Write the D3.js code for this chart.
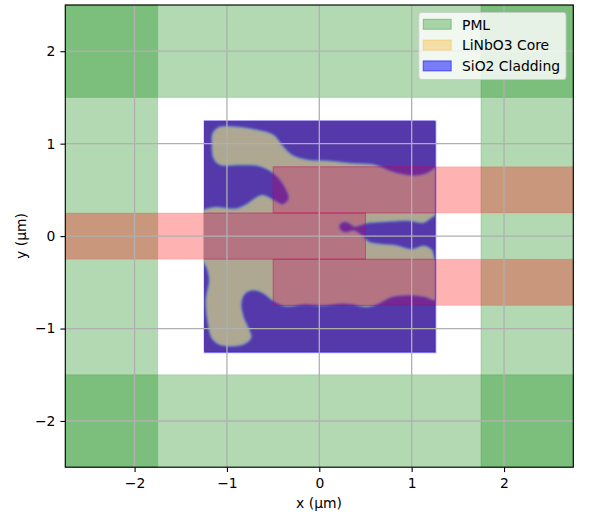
<!DOCTYPE html>
<html>
<head>
<meta charset="utf-8">
<script src="https://cdn.jsdelivr.net/npm/d3@7"></script>
<style>
  html, body { margin: 0; padding: 0; background: #fff; }
  svg { display: block; }
  text { font-family: "DejaVu Sans", sans-serif; }
</style>
</head>
<body>
<svg id="chart" width="601" height="518"></svg>
<script>
// Data, all in um
const xDomain = [-2.75, 2.75];
const yDomain = [-2.5, 2.5];
const xTickValues = [-2, -1, 0, 1, 2];
const yTickValues = [-2, -1, 0, 1, 2];

// [x0, x1, y0, y1]
const pmlRects = [
  [-2.75, -1.75, -2.5, 2.5],
  [1.75, 2.75, -2.5, 2.5],
  [-2.75, 2.75, 1.5, 2.5],
  [-2.75, 2.75, -2.5, -1.5]
];
const waveguideRects = [
  [-2.75, 0.5, -0.25, 0.25],
  [-0.5, 2.75, 0.25, 0.75],
  [-0.5, 2.75, -0.75, -0.25]
];
const claddingRect = [-1.25, 1.25, -1.25, 1.25];

// outline of the core pattern
const coreOutline = [
  [-1.257, 0.282], [-1.127, 0.314], [-0.910, 0.296], [-0.802, 0.336], [-0.621, 0.444],
  [-0.495, 0.390], [-0.397, 0.343], [-0.332, 0.408], [-0.386, 0.553], [-0.495, 0.679],
  [-0.657, 0.758], [-0.874, 0.769], [-1.073, 0.769], [-1.145, 0.841], [-1.163, 1.004],
  [-1.155, 1.112], [-1.091, 1.177], [-0.946, 1.185], [-0.730, 1.159], [-0.495, 1.094],
  [-0.405, 0.986], [-0.296, 0.878], [-0.116, 0.823], [0.101, 0.813], [0.354, 0.787],
  [0.607, 0.769], [0.787, 0.697], [1.004, 0.654], [1.148, 0.672], [1.249, 0.733],
  [1.32, 0.8], [1.32, 0.2],
  [1.249, 0.217], [1.130, 0.144], [0.968, 0.166], [0.715, 0.155], [0.517, 0.14],
  [0.44, 0.115], [0.379, 0.103], [0.33, 0.135], [0.28, 0.155], [0.225, 0.13],
  [0.217, 0.09], [0.25, 0.05], [0.30, 0.043], [0.379, 0.06], [0.43, 0.03],
  [0.5, -0.03], [0.534, -0.062], [0.679, -0.087], [0.823, -0.098],
  [1.004, -0.141], [1.130, -0.105], [1.221, -0.152], [1.249, -0.242],
  [1.32, -0.3], [1.32, -0.65],
  [1.249, -0.693], [1.148, -0.657], [0.968, -0.639], [0.787, -0.657], [0.643, -0.729],
  [0.517, -0.766], [0.354, -0.737], [0.246, -0.729], [0.029, -0.748], [-0.152, -0.737],
  [-0.368, -0.758], [-0.495, -0.704], [-0.603, -0.621], [-0.712, -0.585], [-0.802, -0.621],
  [-0.845, -0.729], [-0.820, -0.874], [-0.748, -1.037], [-0.737, -1.098], [-0.802, -1.163],
  [-0.946, -1.192], [-1.091, -1.170], [-1.163, -1.108], [-1.199, -0.983], [-1.228, -0.693],
  [-1.192, -0.477], [-1.217, -0.350], [-1.257, -0.278],
  [-1.32, -0.2], [-1.32, 0.25]
];

const legendLabels = ["PML", "LiNbO3 Core", "SiO2 Cladding"];
const legendColors = ["green", "orange", "blue"];
const legendAlphas = [0.3, 0.3, 0.5];

const svg = d3.select("#chart");
const x = d3.scaleLinear().domain(xDomain).range([65.3, 573.3]);
const y = d3.scaleLinear().domain(yDomain).range([467.2, 5]);

const defs = svg.append("defs");
defs.append("clipPath").attr("id", "clad-clip").append("rect")
  .attr("x", x(claddingRect[0])).attr("y", y(claddingRect[3]))
  .attr("width", x(claddingRect[1]) - x(claddingRect[0]))
  .attr("height", y(claddingRect[2]) - y(claddingRect[3]));
defs.append("filter").attr("id", "soft")
  .attr("x", "-5%").attr("y", "-5%").attr("width", "110%").attr("height", "110%")
  .append("feGaussianBlur").attr("stdDeviation", 0.8);

function drawRects(sel, rects, fill, alpha, stroke, strokeAlpha, strokeWidth) {
  sel.selectAll(null).data(rects).join("rect")
    .attr("x", d => x(d[0]))
    .attr("y", d => y(d[3]))
    .attr("width", d => x(d[1]) - x(d[0]))
    .attr("height", d => y(d[2]) - y(d[3]))
    .attr("fill", fill).attr("fill-opacity", alpha)
    .attr("stroke", stroke).attr("stroke-opacity", strokeAlpha)
    .attr("stroke-width", strokeWidth);
}

// PML
drawRects(svg.append("g"), pmlRects, "green", 0.3, "green", 0.15, 1.1);
// waveguides, outside the cladding they sit straight on the white
drawRects(svg.append("g"), waveguideRects, "red", 0.3, "red", 0.1, 1.1);

// cladding block, the pale edge only shows on the right and bottom
drawRects(svg.append("g").attr("transform", "translate(0.7,0.7)"), [claddingRect], "#5538aa", 1, "blue", 0.38, 1.8);
svg.append("g").attr("clip-path", "url(#clad-clip)").call(g =>
  drawRects(g, [claddingRect], "#5538aa", 1, "#5538aa", 1, 0));

// core pattern
const coreLine = d3.line().x(d => x(d[0])).y(d => y(d[1])).curve(d3.curveCatmullRomClosed.alpha(0.5));
const coreG = svg.append("g").attr("clip-path", "url(#clad-clip)");
coreG.append("path").datum(coreOutline)
  .attr("d", coreLine)
  .attr("fill", "#aea791")
  .attr("stroke", "#4f93cf")
  .attr("stroke-opacity", 0.75)
  .attr("stroke-width", 1.3)
  .attr("filter", "url(#soft)");

// waveguides again over the block, tint is different here
const overG = svg.append("g").attr("clip-path", "url(#clad-clip)");
drawRects(overG, waveguideRects, "rgb(195,0,95)", 0.3, "rgb(200,0,80)", 0.4, 1.1);

// grid
const grid = svg.append("g");
grid.selectAll(null).data(xTickValues).join("line")
  .attr("x1", d => x(d)).attr("x2", d => x(d)).attr("y1", y(yDomain[0])).attr("y2", y(yDomain[1]))
  .attr("stroke", "#b0b0b0").attr("stroke-width", 1.3);
grid.selectAll(null).data(yTickValues).join("line")
  .attr("y1", d => y(d)).attr("y2", d => y(d)).attr("x1", x(xDomain[0])).attr("x2", x(xDomain[1]))
  .attr("stroke", "#b0b0b0").attr("stroke-width", 1.3);

// axes
const xAxis = d3.axisBottom(x).tickValues(xTickValues).tickSize(4.9).tickPadding(5.6).tickFormat(d3.format("d"));
const yAxis = d3.axisLeft(y).tickValues(yTickValues).tickSize(4.9).tickPadding(5).tickFormat(d3.format("d"));
const gx = svg.append("g").attr("transform", `translate(0,${y(yDomain[0])})`).call(xAxis);
const gy = svg.append("g").attr("transform", `translate(${x(xDomain[0])},0)`).call(yAxis);
[gx, gy].forEach(g => {
  g.select(".domain").remove();
  g.selectAll("line").attr("stroke", "#000").attr("stroke-width", 1.1);
  g.selectAll("text").attr("font-size", 13.9).attr("font-family", "DejaVu Sans").attr("fill", "#000");
});

// frame
svg.append("rect")
  .attr("x", x(xDomain[0])).attr("y", y(yDomain[1]))
  .attr("width", x(xDomain[1]) - x(xDomain[0])).attr("height", y(yDomain[0]) - y(yDomain[1]))
  .attr("fill", "none").attr("stroke", "#000").attr("stroke-width", 1.1);

svg.append("text").attr("x", 319).attr("y", 507.5).attr("text-anchor", "middle")
  .attr("font-size", 13.9).attr("fill", "#000").text("x (μm)");
svg.append("text").attr("transform", "translate(25.5,236) rotate(-90)").attr("text-anchor", "middle")
  .attr("font-size", 13.9).attr("fill", "#000").text("y (μm)");

// legend
const legend = svg.append("g");
legend.append("rect").attr("x", 418.8).attr("y", 12.5).attr("width", 147.2).attr("height", 67).attr("rx", 3)
  .attr("fill", "#fff").attr("fill-opacity", 0.8).attr("stroke", "#ccc").attr("stroke-opacity", 0.8).attr("stroke-width", 1.1);
const rows = legend.selectAll(null).data(legendLabels).join("g")
  .attr("transform", (d, i) => `translate(0,${19.3 + i * 20.8})`);
rows.append("rect").attr("x", 423.2).attr("y", 0).attr("width", 28).attr("height", 10)
  .attr("fill", (d, i) => legendColors[i]).attr("fill-opacity", (d, i) => legendAlphas[i])
  .attr("stroke", (d, i) => legendColors[i]).attr("stroke-opacity", (d, i) => legendAlphas[i]).attr("stroke-width", 1.1);
rows.append("text").attr("x", 462).attr("y", 10.2).attr("font-size", 13.9).attr("fill", "#000").text(d => d);
</script>
</body>
</html>
